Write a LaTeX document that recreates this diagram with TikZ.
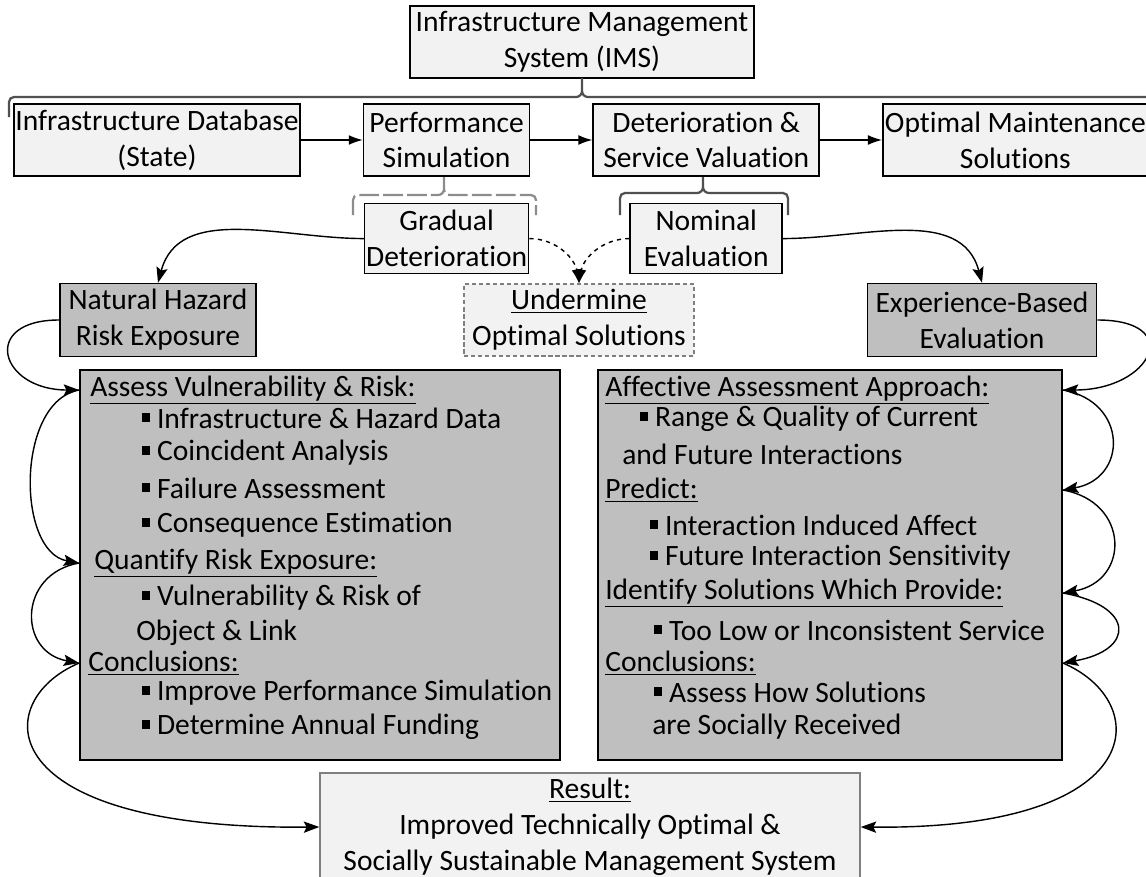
\documentclass[tikz,border=0pt]{standalone}
\usepackage{fontspec}
\setmainfont{Carlito}[Ligatures={NoCommon,NoContextual}]
\usetikzlibrary{positioning, arrows.meta}

\definecolor{boxLight}{RGB}{242,242,242}
\definecolor{boxDark}{RGB}{191,191,191}
\definecolor{braceDark}{RGB}{80,80,80}
\definecolor{braceLight}{RGB}{140,140,140}
\definecolor{edgeGray}{RGB}{127,127,127}

\tikzset{Box/.style={%
    draw=black,%
    line width=1.1pt,%
    fill=boxLight,%
    align=center,%
    inner sep=0pt,%
    minimum height=1.8cm,%
    font=\fontsize{21}{25.5}\selectfont,%
}}
\tikzset{DarkBox/.style={Box, fill=boxDark}}
\tikzset{Line/.style={%
    anchor=west,%
    inner sep=0pt,%
    font=\fontsize{21}{25}\selectfont,%
}}
\tikzset{Flow/.style={%
    -{Latex[length=10pt,width=7pt]},%
    line width=1pt,%
}}
\tikzset{Loop/.style={%
    -{Stealth[length=11pt,width=8pt,inset=2pt]},%
    line width=1pt,%
}}
\tikzset{Weak/.style={Flow, dashed}}
\tikzset{BraceLine/.style={line width=1.6pt}}

\newcommand{\sqBullet}{\rule[0.42ex]{0.25em}{0.3em}\hspace{0.25em}}
% #1 style, #2 left x, #3 tip x, #4 right x, #5 end y, #6 arm y, #7 tip y
\newcommand{\braceLine}[7]{%
    \draw[#1] (#2,#5) -- (#2,#6+5) to[out=90,in=180] (#2+5,#6)
        -- (#3-6,#6) to[out=0,in=-90] (#3,#6-6) -- (#3,#7)
        -- (#3,#6-6) to[out=-90,in=180] (#3+6,#6)
        -- (#4-5,#6) to[out=0,in=90] (#4,#6+5) -- (#4,#5);%
}

\begin{document}
\begin{tikzpicture}[x=0.025cm, y=-0.025cm]
    \useasboundingbox (0,0) rectangle (1146,876);

    % management levels
    \node[Box, minimum width=8.6cm] (ims) at (582,42) {Infrastructure Management\\System (IMS)};
    \node[Box, minimum width=7.15cm] (db) at (157,140) {Infrastructure Database\\(State)};
    \node[Box, minimum width=4.15cm, right=1.55cm of db] (perf) {Performance\\Simulation};
    \node[Box, minimum width=5.65cm, right=1.55cm of perf] (det) {Deterioration \&\\Service Valuation};
    \node[Box, minimum width=6.625cm, right=1.55cm of det] (opt) {Optimal Maintenance\\Solutions};
    \node[Box, minimum width=4.1cm, minimum height=1.75cm, below=0.65cm of perf] (grad) {Gradual\\Deterioration};
    \node[Box, minimum width=3.8cm, minimum height=1.75cm, below=0.65cm of det] (nom) {Nominal\\Evaluation};

    \braceLine{BraceLine, draw=braceDark}{9}{582}{1155}{117}{97}{78}
    \braceLine{BraceLine, draw=braceLight, dash pattern=on 14pt off 3pt}{353}{444}{536}{215}{195}{177}
    \braceLine{BraceLine, draw=braceDark}{620}{703}{788}{215}{193}{177}

    \node[DarkBox, minimum width=4.9cm, minimum height=1.825cm] (nat) at (158,320) {Natural Hazard\\Risk Exposure};
    \node[Box, draw=edgeGray, line width=0.8pt, dash pattern=on 3pt off 2pt, minimum width=5.75cm] (und) at (579,320) {\underline{Undermine}\\Optimal Solutions};
    \node[DarkBox, minimum width=5.725cm, minimum height=1.825cm] (exp) at (982,320) {Experience-Based\\Evaluation};

    % risk side
    \node[DarkBox, minimum width=12cm, minimum height=9.75cm] (risk) at (320,565) {};
    \node[Line] (hAssess) at (90,390) {\underline{Assess Vulnerability \& Risk:}};
    \node[Line] (iData) at (142,418) {\sqBullet Infrastructure \& Hazard Data};
    \node[Line] (iCoinc) at (142,453) {\sqBullet Coincident Analysis};
    \node[Line] (iFail) at (142,488) {\sqBullet Failure Assessment};
    \node[Line] (iConseq) at (142,525) {\sqBullet Consequence Estimation};
    \node[Line] (hQuant) at (94,563) {\underline{Quantify Risk Exposure:}};
    \node[Line] (iVuln) at (142,598) {\sqBullet Vulnerability \& Risk of};
    \node[Line] (iObject) at (136,633) {Object \& Link};
    \node[Line] (hConcl) at (88,663) {\underline{Conclusions:}};
    \node[Line] (iImprove) at (142,693) {\sqBullet Improve Performance Simulation};
    \node[Line] (iFund) at (142,727) {\sqBullet Determine Annual Funding};

    % social side
    \node[DarkBox, minimum width=11.6cm, minimum height=9.75cm] (social) at (830,565) {};
    \node[Line] (hAffect) at (605,390) {\underline{Affective Assessment Approach:}};
    \node[Line] (iRange) at (640,419) {\sqBullet Range \& Quality of Current};
    \node[Line] (iFuture) at (622,454) {and Future Interactions};
    \node[Line] (hPredict) at (605,490) {\underline{Predict:}};
    \node[Line] (iInduced) at (650,525) {\sqBullet Interaction Induced Affect};
    \node[Line] (iSens) at (650,558) {\sqBullet Future Interaction Sensitivity};
    \node[Line] (hIdent) at (605,593) {\underline{Identify Solutions Which Provide:}};
    \node[Line] (iService) at (654,630) {\sqBullet Too Low or Inconsistent Service};
    \node[Line] (hConclR) at (605,663) {\underline{Conclusions:}};
    \node[Line] (iSocial) at (654,692) {\sqBullet Assess How Solutions};
    \node[Line] (iReceived) at (652,727) {are Socially Received};

    \node[Box, draw=edgeGray, line width=0.9pt, minimum width=13.5cm, minimum height=2.7cm] (res) at (590,827) {\underline{Result:}\\Improved Technically Optimal \&\\Socially Sustainable Management System};

    % connectors
    \draw[Flow] (db) -- (perf);
    \draw[Flow] (perf) -- (det);
    \draw[Flow] (det) -- (opt);
    \draw[Loop] (grad.west) to[out=180,in=75] (nat.north);
    \draw[Loop] (nom.east) to[out=0,in=105] (exp.north);
    \draw[Weak] (grad.east) to[out=0,in=100] (und.north);
    \draw[Weak] (nom.west) to[out=180,in=80] (und.north);

    \draw[Loop] (nat.west) to[out=180,in=180,looseness=2.8] (risk.west |- hAssess);
    \draw[Loop] (risk.west |- hAssess) to[out=190,in=170,looseness=0.95] (risk.west |- hQuant);
    \draw[Loop] (risk.west |- hQuant) to[out=190,in=170,looseness=1.6] (risk.west |- hConcl);
    \draw[Loop] (risk.west |- hConcl) .. controls +(-90,38) and +(-330,3) .. (res.west);

    \draw[Loop] (exp.east) to[out=0,in=0,looseness=2.9] (social.east |- hAffect);
    \draw[Loop] (social.east |- hAffect) to[out=-10,in=10,looseness=1.7] (social.east |- hPredict);
    \draw[Loop] (social.east |- hPredict) to[out=-10,in=10,looseness=1.7] (social.east |- hIdent);
    \draw[Loop] (social.east |- hIdent) to[out=-10,in=10,looseness=2.7] (social.east |- hConclR);
    \draw[Loop] (social.east |- hConclR) .. controls +(90,38) and +(292,3) .. (res.east);
\end{tikzpicture}
\end{document}
